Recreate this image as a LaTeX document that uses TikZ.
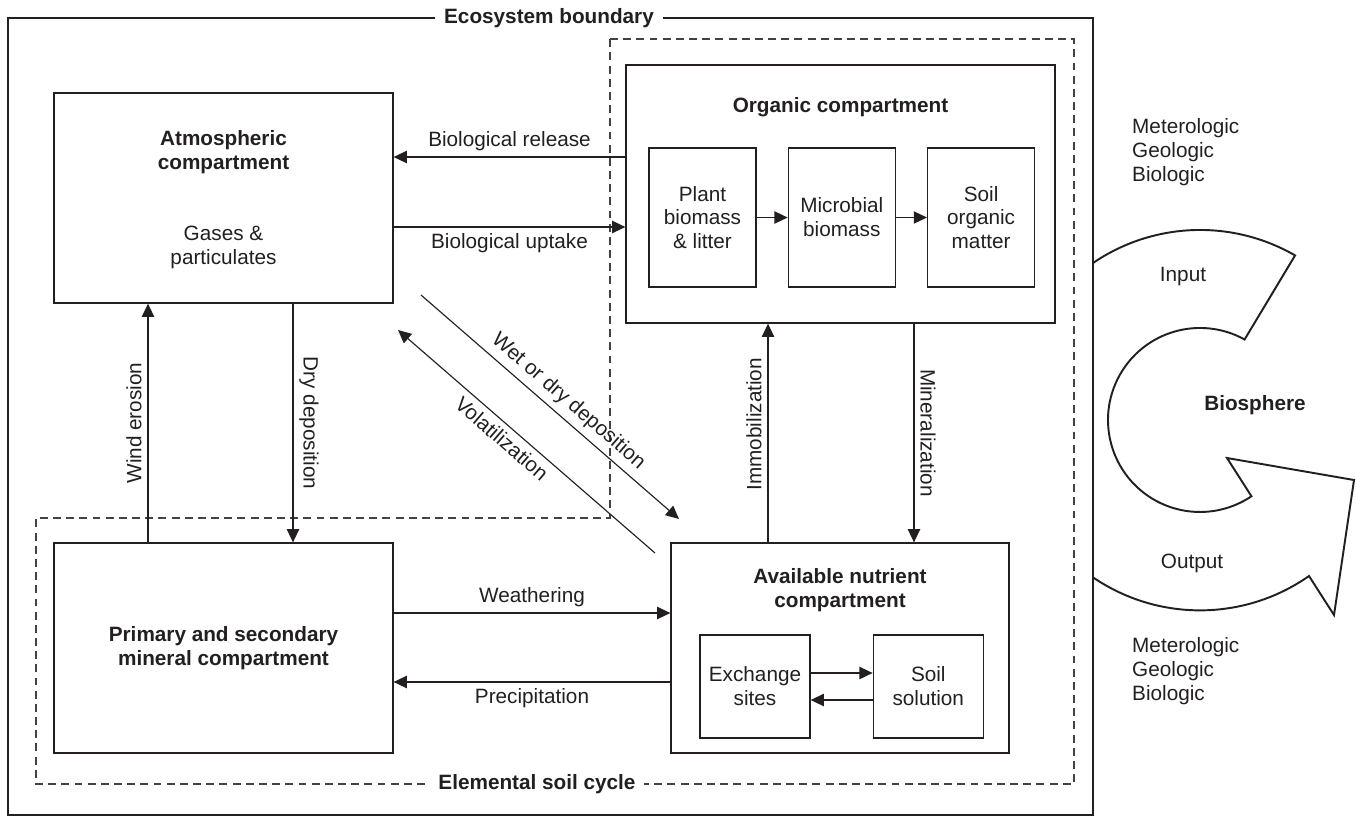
\documentclass[tikz,border=0pt]{standalone}
\usepackage{fontspec}
\setmainfont{Liberation Sans}
\usepackage{tikz}
\usetikzlibrary{positioning,arrows.meta}
\definecolor{ink}{HTML}{231F20}

\begin{document}
\begin{tikzpicture}[
x=0.02cm, y=-0.02cm,
node distance=0.62cm,
font=\fontsize{11.8}{13.6}\selectfont,
every node/.style={text=ink},
box/.style={draw=ink, line width=0.75pt, align=center, inner sep=0pt},
compartment/.style={box, minimum width=6.78cm, minimum height=4.2cm},
pool/.style={box, minimum width=2.14cm, minimum height=2.78cm},
site/.style={box, minimum width=2.2cm, minimum height=2.06cm},
title/.style={align=center, font=\fontsize{11.8}{13.6}\selectfont\bfseries},
arrow/.style={-{Triangle[length=7.5pt,width=7pt]}, draw=ink, line width=0.65pt},
boundary/.style={draw=ink, line width=0.75pt},
cycleline/.style={draw=ink!85, line width=0.7pt, dash pattern=on 4.5pt off 3pt}
]
\useasboundingbox (0,0) rectangle (1356,816);

% ecosystem and soil cycle limits
\draw[boundary] (8,18) rectangle (1093,815);
\node[title, fill=white, inner xsep=5pt] (ecolabel) at (549,18) {Ecosystem boundary};
\draw[cycleline] (610,39) -- (1074,39) -- (1074,784) -- (36,784) -- (36,518) -- (610,518) -- cycle;
\node[title, fill=white, inner xsep=5pt] (cyclelabel) at (537,784) {Elemental soil cycle};

% compartments
\node[compartment] (atmo) at (223.5,198) {};
\node[title] (atmotitle) at (223.5,152) {Atmospheric\\compartment};
\node[align=center] (gases) at (223.5,247) {Gases \&\\particulates};

\node[box, minimum width=8.58cm, minimum height=5.16cm] (organic) at (840.5,194) {};
\node[title] (orgtitle) at (840.5,107) {Organic compartment};
\node[pool] (plant) at (702.5,217.5) {Plant\\biomass\\\& litter};
\node[pool, right=of plant] (microbe) {Microbial\\biomass};
\node[pool, right=of microbe] (som) {Soil\\organic\\matter};

\node[compartment, font=\fontsize{11.8}{13.6}\selectfont\bfseries] (mineral) at (223.5,648) {Primary and secondary\\mineral compartment};

\node[box, minimum width=6.76cm, minimum height=4.2cm] (avail) at (840,648) {};
\node[title] (availtitle) at (840,590) {Available nutrient\\compartment};
\node[site] (exch) at (755,686.5) {Exchange\\sites};
\node[site, right=1.24cm of exch] (soilsol) {Soil\\solution};

% fluxes
\draw[arrow] ([yshift=0.74cm]organic.west) -- ([yshift=0.74cm]organic.west -| atmo.east) node[midway, above] {Biological release};
\draw[arrow] ([yshift=-0.66cm]organic.west -| atmo.east) -- ([yshift=-0.66cm]organic.west) node[midway, below] {Biological uptake};
\draw[arrow] ([xshift=-1.51cm]mineral.north) -- ([xshift=-1.51cm]atmo.south) node[midway, rotate=90, above] {Wind erosion};
\draw[arrow] ([xshift=1.39cm]atmo.south) -- ([xshift=1.39cm]mineral.north) node[midway, rotate=-90, above] {Dry deposition};
\draw[arrow] ([xshift=-1.44cm]avail.north) -- ([xshift=-1.44cm]avail.north |- organic.south) node[pos=0.54, rotate=90, above] {Immobilization};
\draw[arrow] ([xshift=1.48cm]avail.north |- organic.south) -- ([xshift=1.48cm]avail.north) node[midway, rotate=-90, above] {Mineralization};
\draw[arrow] ([yshift=0.7cm]mineral.east) -- ([yshift=0.7cm]mineral.east -| avail.west) node[midway, above] {Weathering};
\draw[arrow] ([yshift=-0.68cm]mineral.east -| avail.west) -- ([yshift=-0.68cm]mineral.east) node[midway, below] {Precipitation};

\coordinate (wettop) at (421,295);
\coordinate (wetend) at (679,519);
\coordinate (volstart) at (655,553);
\coordinate (volend) at (398,330);
\draw[arrow] (wettop) -- (wetend) node[pos=0.53, sloped, above] {Wet or dry deposition};
\draw[arrow] (volstart) -- (volend) node[pos=0.56, sloped, below] {Volatilization};

\draw[arrow] (plant) -- (microbe);
\draw[arrow] (microbe) -- (som);
\draw[arrow] ([yshift=0.27cm]exch.east) -- ([yshift=0.27cm]soilsol.west);
\draw[arrow] ([yshift=-0.27cm]soilsol.west) -- ([yshift=-0.27cm]exch.east);

% biosphere loop
\draw[draw=ink, line width=1.1pt, line join=miter]
  (1093,263) arc[start angle=-124.3, end angle=-60, radius=190]
  -- (1244.6,339.5) arc[start angle=-61, end angle=-304, radius=92]
  -- (1227,458) -- (1354,480) -- (1334,615) -- (1309,576)
  arc[start angle=-305, end angle=-235.7, radius=190];
\node[font=\fontsize{11.8}{13.6}\selectfont\bfseries] (bio) at (1255,405) {Biosphere};
\node (input) at (1183,277) {Input};
\node (output) at (1192,563) {Output};
\node[align=left, anchor=west] (sourcesin) at (1126,152) {Meterologic\\Geologic\\Biologic};
\node[align=left, anchor=west] (sourcesout) at (1126,671) {Meterologic\\Geologic\\Biologic};
\end{tikzpicture}
\end{document}
